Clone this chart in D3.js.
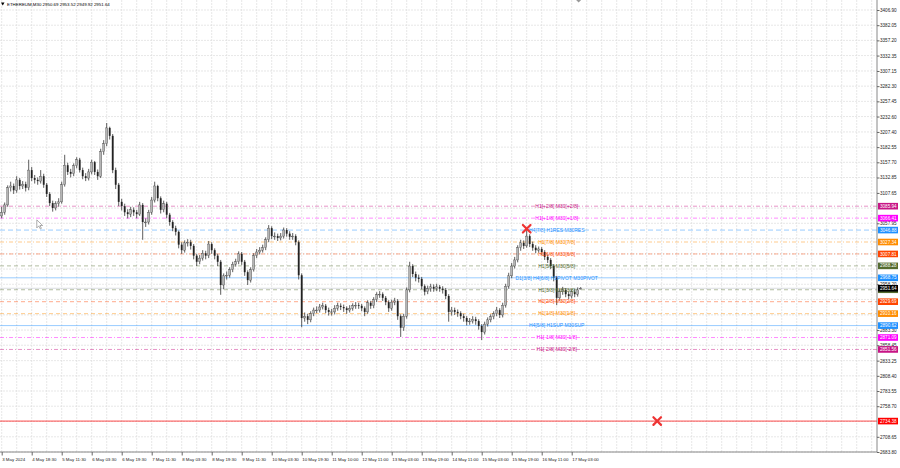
<!DOCTYPE html>
<html><head><meta charset="utf-8">
<script src="https://cdn.jsdelivr.net/npm/d3@7"></script>
<style>body{margin:0;background:#fff}svg{display:block;font-family:"Liberation Sans",Arial,sans-serif}</style>
</head><body><svg id="c" width="900" height="468"></svg>
<script>
// ---------- DATA ----------
const chartTitle = "ETHEREUM,M30  2950.69 2953.52 2949.92 2951.64";
const opens = [3070,3076,3088,3116,3119,3112,3129,3119,3122,3116,3145,3132,3129,3127,3135,3121,3106,3091,3083,3090,
3093,3121,3153,3142,3139,3152,3162,3145,3135,3132,3142,3158,3142,3135,3175,3188,3214,3201,3145,3121,
3093,3086,3076,3073,3080,3076,3073,3088,3060,3060,3076,3096,3119,3099,3080,3090,3072,3060,3050,3044,
3023,3014,3026,3027,3021,3005,2995,3001,3009,3005,3024,3014,3005,2995,2957,2972,2973,2982,2991,2995,
3008,2995,2978,2965,2982,3005,3011,3014,3018,3031,3050,3037,3037,3034,3037,3047,3041,3036,3037,3027,
2973,2903,2906,2900,2910,2916,2916,2921,2923,2916,2913,2913,2919,2923,2921,2919,2916,2919,2923,2924,
2923,2919,2913,2928,2923,2933,2941,2942,2936,2929,2919,2929,2931,2906,2887,2906,2949,2988,2975,2969,
2967,2955,2946,2951,2954,2951,2954,2951,2949,2939,2913,2916,2913,2911,2906,2903,2897,2898,2901,2898,
2890,2880,2893,2900,2905,2910,2916,2908,2924,2955,2972,2988,2998,3018,3026,3021,3037,3024,3018,3014,
3016,3011,3003,2998,2988,2969,2936,2946,2949,2942,2939,2946,2942,2950.69];
const highs = [3085,3092,3120,3126,3123,3135,3132,3127,3126,3162,3150,3137,3133,3145,3139,3124,3109,3095,3094,3099,
3126,3170,3157,3147,3156,3166,3165,3149,3140,3147,3162,3160,3146,3180,3194,3222,3216,3204,3149,3124,
3098,3090,3081,3085,3084,3080,3093,3091,3066,3080,3101,3126,3121,3102,3095,3093,3075,3063,3054,3046,
3027,3030,3032,3031,3024,3008,3006,3014,3013,3029,3027,3017,3008,2998,2976,2979,2986,2995,3000,3012,
3011,2998,2981,2986,3009,3016,3019,3023,3035,3055,3053,3043,3041,3042,3051,3050,3045,3042,3040,3030,
2976,2912,2910,2914,2920,2922,2926,2928,2926,2920,2918,2924,2928,2927,2925,2922,2924,2927,2929,2928,
2926,2922,2932,2931,2937,2945,2947,2945,2939,2932,2933,2936,2934,2909,2910,2953,2995,2991,2979,2974,
2970,2958,2956,2959,2958,2959,2957,2955,2952,2942,2921,2920,2917,2914,2910,2906,2903,2906,2905,2901,
2893,2897,2904,2909,2914,2921,2919,2928,2959,2977,2993,3003,3022,3031,3030,3048,3040,3028,3022,3020,
3019,3014,3007,3001,2991,2972,2950,2954,2952,2946,2950,2950,2953,2953.52];
const lows = [3066,3072,3085,3110,3106,3108,3113,3114,3110,3112,3127,3123,3121,3123,3116,3101,3086,3077,3079,3085,
3090,3118,3137,3133,3135,3148,3141,3130,3127,3128,3138,3137,3129,3132,3170,3184,3195,3140,3114,3086,
3079,3070,3066,3068,3070,3066,3070,3031,3052,3056,3072,3092,3094,3074,3076,3066,3054,3045,3038,3017,
3008,3010,3020,3015,2999,2988,2991,2997,2999,3001,3008,2999,2988,2941,2950,2966,2969,2978,2987,2991,
2990,2972,2957,2961,2979,3001,3007,3010,3014,3027,3032,3031,3029,3030,3033,3036,3031,3031,3022,2966,
2888,2897,2893,2896,2906,2911,2912,2917,2911,2907,2907,2909,2915,2916,2913,2910,2912,2915,2918,2918,
2914,2906,2910,2918,2919,2929,2936,2931,2924,2913,2915,2924,2900,2872,2882,2902,2945,2970,2963,2961,
2950,2940,2942,2946,2946,2947,2946,2943,2934,2897,2907,2908,2905,2901,2897,2891,2892,2894,2892,2884,
2867,2876,2889,2896,2901,2906,2903,2904,2920,2951,2968,2984,2994,3013,3016,3018,3019,3013,3009,3010,
3006,2998,2993,2983,2963,2924,2931,2941,2937,2934,2935,2937,2938,2949.92];
const closes = [3076,3088,3116,3119,3112,3129,3119,3122,3116,3145,3132,3129,3127,3135,3121,3106,3091,3083,3090,3093,
3121,3153,3142,3139,3152,3162,3145,3135,3132,3142,3158,3142,3135,3175,3188,3214,3201,3145,3121,3093,
3086,3076,3073,3080,3076,3073,3088,3060,3060,3076,3096,3119,3099,3080,3090,3072,3060,3050,3044,3023,
3014,3026,3027,3021,3005,2995,3001,3009,3005,3024,3014,3005,2995,2957,2972,2973,2982,2991,2995,3008,
2995,2978,2965,2982,3005,3011,3014,3018,3031,3050,3037,3037,3034,3037,3047,3041,3036,3037,3027,2973,
2903,2906,2900,2910,2916,2916,2921,2923,2916,2913,2913,2919,2923,2921,2919,2916,2919,2923,2924,2923,
2919,2913,2928,2923,2933,2941,2942,2936,2929,2919,2929,2931,2906,2887,2906,2949,2988,2975,2969,2967,
2955,2946,2951,2954,2951,2954,2951,2949,2939,2913,2916,2913,2911,2906,2903,2897,2898,2901,2898,2890,
2880,2893,2900,2905,2910,2916,2908,2924,2955,2972,2988,2998,3018,3026,3021,3037,3024,3018,3014,3016,
3011,3003,2998,2988,2969,2936,2946,2949,2942,2939,2946,2942,2949,2951.64];

const xTickIndex = [0,10,20,30,40,50,60,70,80,90,100,110,120,130,140,150,160,170,180,190];
const xTickLabels = ["3 May 2024","4 May 18:30","5 May 11:30","6 May 03:30","6 May 19:30","7 May 11:30","8 May 03:30",
"8 May 19:30","9 May 11:30","10 May 03:30","10 May 19:30","11 May 10:00","12 May 11:00","13 May 03:00","13 May 19:00",
"14 May 11:00","15 May 03:00","15 May 19:00","16 May 11:00","17 May 03:00"];
const yTickValues = [3406.90,3382.05,3357.20,3332.35,3307.15,3282.30,3257.45,3232.60,3207.40,3182.55,3157.70,3132.85,
3107.65,3082.80,3057.95,3032.75,3007.90,2983.05,2958.20,2933.35,2908.15,2883.30,2858.45,2833.25,2808.40,2783.55,
2758.70,2733.85,2708.65,2683.80];

const levelValues = [3085.94,3066.41,3046.88,3027.34,3007.81,2988.28,2968.75,2949.22,2929.69,2910.16,2890.62,2871.09,2851.56];
const levelTexts = ["H1[+2/8] M30[+2/8]","H1[+1/8] M30[+1/8]","H4[7/8] H1RES M30RES","H1[7/8] M30[7/8]","H1[6/8] M30[6/8]",
"H1[5/8] M30[5/8]","D1[3/8] H4[6/8] H1PIVOT M30PIVOT","H1[3/8] M30[3/8]","H1[2/8] M30[2/8]","H1[1/8] M30[1/8]",
"H4[5/8] H1SUP M30SUP","H1[-1/8] M30[-1/8]","H1[-2/8] M30[-2/8]"];
const redLevel = 2734.38;
const lastPrice = 2951.64;
const crossIndex = [175, 218.5];
const crossPrice = [3049, 2734.38];
const labelBarIndex = 185;

// ---------- STYLE ----------
const levelColors = ["#c71585","#ff00ff","#1e90ff","#ff8c00","#ff4500","#556b2f","#1e90ff","#556b2f","#ff4500","#ff8c00","#1e90ff","#ff00ff","#c71585"];
const levelDash = ["4,2,1,2","4,2,1,2","5,3","4,2,1,2","4,2,1,2","4,3","none","4,3","4,3","4,3","none","4,2,1,2","4,2,1,2"];

// ---------- CHART ----------
const svg = d3.select("#c");
const W = 900, H = 468, plotR = 877, plotB = 452;
const x = d3.scaleLinear().domain([0, 291]).range([1.7, 1.7 + 291 * 3]);
const y = d3.scaleLinear().domain([2683.80, 3406.90]).range([plotB, 10]);

svg.append("rect").attr("width", W).attr("height", H).attr("fill", "#fff");

// grid
const g = svg.append("g");
g.selectAll("line.gv").data(d3.range(0, 292, 5)).join("line")
  .attr("x1", d => x(d)).attr("x2", d => x(d)).attr("y1", 0).attr("y2", plotB)
  .attr("stroke", "#dcdcdc").attr("stroke-width", 0.7).attr("stroke-dasharray", "2,1");
g.selectAll("line.gh").data(yTickValues).join("line")
  .attr("x1", 0).attr("x2", plotR).attr("y1", d => y(d)).attr("y2", d => y(d))
  .attr("stroke", "#dcdcdc").attr("stroke-width", 0.7).attr("stroke-dasharray", "2,1");

// level lines
svg.append("g").selectAll("line").data(levelValues).join("line")
  .attr("x1", 0).attr("x2", plotR).attr("y1", d => y(d)).attr("y2", d => y(d))
  .attr("stroke", (d, i) => levelColors[i]).attr("stroke-opacity", 0.45).attr("stroke-width", 1)
  .attr("stroke-dasharray", (d, i) => levelDash[i]);
svg.append("line").attr("x1", 0).attr("x2", plotR).attr("y1", y(redLevel)).attr("y2", y(redLevel))
  .attr("stroke", "#ff0000").attr("stroke-opacity", 0.7).attr("stroke-width", 1);
svg.append("line").attr("x1", 0).attr("x2", plotR).attr("y1", y(lastPrice)).attr("y2", y(lastPrice))
  .attr("stroke", "#9aa3ad").attr("stroke-opacity", 0.45).attr("stroke-width", 0.8);

// candles
const cg = svg.append("g");
closes.forEach((c, i) => {
  const o = opens[i], hi = highs[i], lo = lows[i];
  cg.append("line").attr("x1", x(i)).attr("x2", x(i)).attr("y1", y(hi)).attr("y2", y(lo))
    .attr("stroke", "#333").attr("stroke-width", 0.8);
  const top = y(Math.max(o, c)), bot = y(Math.min(o, c));
  const bull = c >= o;
  cg.append("rect").attr("x", x(i) - 0.9).attr("width", 1.8)
    .attr("y", top).attr("height", Math.max(0.8, bot - top))
    .attr("fill", bull ? "#b5b5b5" : "#222").attr("stroke", bull ? "#333" : "none").attr("stroke-width", 0.35);
});

// level text labels
svg.append("g").selectAll("text").data(levelValues).join("text")
  .attr("x", x(labelBarIndex)).attr("y", d => y(d) + 1.8)
  .attr("text-anchor", "middle").attr("font-size", 5)
  .attr("fill", (d, i) => levelColors[i]).text((d, i) => levelTexts[i]);

// red crosses
crossIndex.forEach((ci, k) => {
  const cx = x(ci), cy = y(crossPrice[k]), s = 3.8;
  svg.append("path").attr("d", `M${cx - s},${cy - s}L${cx + s},${cy + s}M${cx - s},${cy + s}L${cx + s},${cy - s}`)
    .attr("stroke", "#ee3333").attr("stroke-width", 2.2).attr("stroke-linecap", "round");
});

// mouse pointer decoration
{
  const px = x(11.7), py = y(3063.5);
  svg.append("path").attr("d", `M${px},${py}L${px},${py + 8}L${px + 2},${py + 6}L${px + 3.5},${py + 9}L${px + 4.6},${py + 8.4}L${px + 3.2},${py + 5.6}L${px + 5.8},${py + 5.6}Z`)
    .attr("fill", "#fff").attr("stroke", "#777").attr("stroke-width", 0.6);
}

// borders
svg.append("line").attr("x1", plotR).attr("x2", plotR).attr("y1", 0).attr("y2", plotB).attr("stroke", "#888").attr("stroke-width", 1);
svg.append("line").attr("x1", 0).attr("x2", plotR).attr("y1", plotB).attr("y2", plotB).attr("stroke", "#888").attr("stroke-width", 1);

// y axis (tick labels that sit under a price box are hidden, as in the reference)
const boxVals = levelValues.concat([redLevel, lastPrice]);
const boxCols = levelColors.concat(["#ff0000", "#000"]);
const visibleTicks = yTickValues.filter(t => boxVals.every(b => Math.abs(y(t) - y(b)) > 3.6));
const ya = svg.append("g").attr("transform", `translate(${plotR},0)`)
  .call(d3.axisRight(y).tickValues(visibleTicks).tickSize(2.5).tickFormat(d3.format(".2f")));
ya.select(".domain").remove();
ya.selectAll("line").attr("stroke", "#666");
ya.selectAll("text").attr("x", 3).attr("font-size", 4.6).attr("fill", "#222").attr("font-family", "Liberation Sans, Arial");

// price boxes
const bg = svg.append("g");
boxVals.forEach((v, i) => {
  bg.append("rect").attr("x", plotR + 1).attr("y", y(v) - 3.3).attr("width", 20).attr("height", 6.6).attr("fill", boxCols[i]);
  bg.append("text").attr("x", plotR + 3).attr("y", y(v) + 1.6).attr("font-size", 4.6).attr("fill", "#fff").text(v.toFixed(2));
});

// x axis
const xa = svg.append("g").attr("transform", `translate(0,${plotB})`)
  .call(d3.axisBottom(x).tickValues(xTickIndex).tickSize(3.5).tickFormat((d, i) => xTickLabels[i]));
xa.select(".domain").remove();
xa.selectAll("line").attr("stroke", "#666");
xa.selectAll("text").attr("text-anchor", "start").attr("x", 0).attr("y", 9).attr("dy", 0)
  .attr("font-size", 4.4).attr("fill", "#222").attr("font-family", "Liberation Sans, Arial");

// title
svg.append("path").attr("d", "M1,2.5L4.5,2.5L2.75,5.5Z").attr("fill", "#000");
svg.append("text").attr("x", 7).attr("y", 6).attr("font-size", 4.4).attr("fill", "#000").text(chartTitle);
svg.append("path").attr("d", `M${x(192.3) - 2.5},0L${x(192.3) + 2.5},0L${x(192.3)},2.5Z`).attr("fill", "#999");
</script></body></html>
